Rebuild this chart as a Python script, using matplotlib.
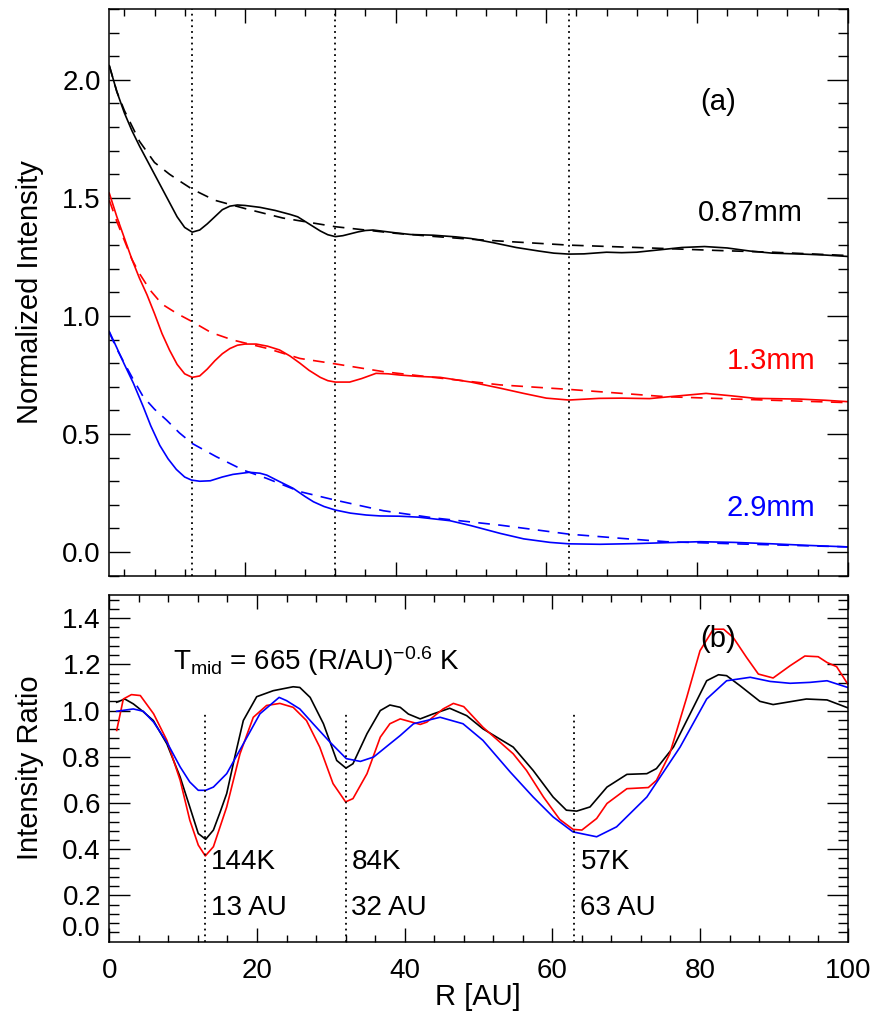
import numpy as np
import matplotlib
matplotlib.use("Agg")
import matplotlib.pyplot as plt
from matplotlib.ticker import MultipleLocator, FixedLocator, FormatStrFormatter

plt.rcParams['font.family'] = ['Liberation Sans', 'DejaVu Sans']
plt.rcParams['mathtext.fontset'] = 'custom'
plt.rcParams['mathtext.rm'] = 'Liberation Sans'
plt.rcParams['mathtext.it'] = 'Liberation Sans'

# ---------------- (a) normalized radial intensity profiles ----------------
r_087 = [2, 3, 4, 5, 6, 7, 8, 9, 10, 11, 12, 13, 14, 15, 16, 17, 18, 19, 20, 22, 24, 26,
         27, 28, 29, 30, 31, 32, 33, 34, 35, 36, 37, 38, 40, 42, 45, 48, 50, 53, 56, 59,
         61, 63, 65, 68, 70, 72, 75, 78, 81, 84, 87, 90, 94, 97, 100]
i_087 = [2.06, 1.95, 1.86, 1.785, 1.72, 1.66, 1.60, 1.54, 1.48, 1.42, 1.375, 1.355, 1.364,
         1.39, 1.42, 1.45, 1.465, 1.47, 1.468, 1.46, 1.447, 1.43, 1.42, 1.40, 1.38, 1.36,
         1.344, 1.336, 1.34, 1.348, 1.356, 1.362, 1.364, 1.36, 1.352, 1.345, 1.342, 1.335,
         1.328, 1.31, 1.29, 1.275, 1.266, 1.262, 1.263, 1.27, 1.268, 1.27, 1.28, 1.29,
         1.294, 1.288, 1.275, 1.266, 1.262, 1.258, 1.252]
r_087_fit = [2, 3, 4, 6, 8, 10, 11.4, 13, 16, 20, 25, 32, 36, 40, 45, 50, 55, 63, 72, 83, 90, 100]
i_087_fit = [2.06, 1.95, 1.87, 1.74, 1.65, 1.60, 1.57, 1.537, 1.49, 1.455, 1.415, 1.378,
             1.364, 1.35, 1.337, 1.325, 1.315, 1.30, 1.29, 1.277, 1.27, 1.256]

r_13 = [2, 3, 4, 5, 6, 7, 8, 9, 10, 11, 12, 13, 14, 15, 16, 17, 18, 19, 20, 21.5, 23, 24.6,
        26, 27.3, 28.5, 30, 31, 32, 33.9, 35.5, 37.4, 39, 40.5, 43, 45.9, 50, 53.9, 57, 60,
        63, 67, 70, 73.7, 77, 81.2, 84.5, 87.8, 93.6, 97, 100]
i_13 = [1.52, 1.42, 1.33, 1.24, 1.16, 1.09, 1.01, 0.925, 0.855, 0.795, 0.755, 0.74, 0.746,
        0.775, 0.81, 0.84, 0.862, 0.876, 0.881, 0.881, 0.872, 0.856, 0.83, 0.80, 0.77, 0.74,
        0.726, 0.72, 0.72, 0.735, 0.757, 0.755, 0.75, 0.744, 0.74, 0.72, 0.694, 0.672, 0.652,
        0.644, 0.651, 0.652, 0.65, 0.66, 0.672, 0.662, 0.651, 0.648, 0.643, 0.637]
r_13_fit = [2, 3, 4, 5, 6, 7.4, 9, 11, 13, 15.5, 18.4, 22.9, 27.3, 32, 38.4, 45, 53.9, 63, 75.9, 88, 100]
i_13_fit = [1.49, 1.40, 1.32, 1.24, 1.18, 1.11, 1.05, 1.01, 0.976, 0.93, 0.898, 0.863, 0.82,
            0.797, 0.764, 0.74, 0.708, 0.689, 0.658, 0.645, 0.633]

r_29 = [2, 3, 4, 5.2, 6.5, 7.5, 8.7, 9.8, 10.9, 12, 12.9, 14, 15.4, 17, 18.4, 20.6, 22, 22.9,
        24.5, 26.4, 28, 29.1, 30.5, 32, 34, 36.1, 38, 40.5, 43, 47.2, 50, 53.9, 57, 60.5, 63,
        67.1, 72, 76, 80.4, 85, 90, 95, 100]
i_29 = [0.934, 0.865, 0.795, 0.715, 0.616, 0.535, 0.452, 0.395, 0.35, 0.318, 0.305, 0.30, 0.302,
        0.318, 0.329, 0.338, 0.334, 0.326, 0.30, 0.27, 0.235, 0.213, 0.193, 0.178, 0.165,
        0.157, 0.153, 0.152, 0.148, 0.133, 0.112, 0.079, 0.056, 0.041, 0.035, 0.033, 0.036,
        0.04, 0.044, 0.041, 0.035, 0.028, 0.022]
r_29_fit = [2, 3, 4, 5.2, 6.5, 8, 9.6, 11.3, 13, 16.2, 19.8, 22.9, 27.3, 32, 38.4, 45, 53.9,
            63, 70, 75.9, 85, 100]
i_29_fit = [0.93, 0.86, 0.80, 0.73, 0.658, 0.605, 0.559, 0.505, 0.46, 0.404, 0.347, 0.312,
            0.256, 0.22, 0.175, 0.145, 0.114, 0.076, 0.058, 0.044, 0.035, 0.022]

# ---------------- (b) intensity ratios ----------------
r_ratio_k = [1.0, 2.1, 3.25, 4.6, 5.96, 7.8, 9.6, 10.9, 12.05, 13.05, 14.1, 15.0, 15.9, 17.0,
             18.15, 19.96, 22.2, 24.9, 25.8, 27.2, 29, 30.8, 32.05, 33.0, 34.9, 36.7, 38.0,
             39.4, 40.5, 42.1, 43.9, 46.1, 48.4, 50.6, 54.7, 57.4, 60.1, 61.9, 63.3, 65.1,
             67.4, 70.1, 72.8, 74.1, 76.4, 79.1, 80.9, 82.5, 83.6, 85.4, 88.1, 89.9, 94.4,
             97.2, 100]
ratio_k = [1.036, 1.05, 1.029, 0.995, 0.957, 0.856, 0.712, 0.583, 0.468, 0.443, 0.483, 0.56,
           0.641, 0.80, 0.957, 1.06, 1.086, 1.103, 1.10, 1.057, 0.943, 0.784, 0.751, 0.77,
           0.90, 1.0, 1.024, 1.014, 0.985, 0.964, 0.986, 1.01, 0.978, 0.921, 0.842, 0.741,
           0.626, 0.569, 0.565, 0.583, 0.669, 0.724, 0.727, 0.749, 0.842, 1.014, 1.129,
           1.155, 1.151, 1.108, 1.04, 1.026, 1.05, 1.046, 1.012]

r_ratio_r = [1.0, 1.9, 3.0, 4.2, 6.0, 7.8, 9.6, 10.9, 12.05, 13.0, 14.1, 15.9, 17.7, 19.5,
             21.3, 23.1, 24.9, 26.7, 28.5, 30.3, 32.0, 33.0, 34.9, 36.7, 38.0, 39.4, 42.1,
             43.0, 45.2, 46.6, 48.0, 50.6, 54.7, 56.5, 58.8, 61.0, 62.8, 64.0, 66.0, 67.4,
             70.1, 73.0, 74.1, 75.9, 78.2, 80.0, 81.8, 83.2, 84.5, 86.3, 87.9, 89.9, 92.2,
             94.2, 96.0, 97.2, 98.5, 100]
ratio_r = [0.914, 1.05, 1.069, 1.065, 0.986, 0.871, 0.698, 0.526, 0.418, 0.371, 0.411,
           0.583, 0.813, 0.971, 1.022, 1.031, 1.014, 0.957, 0.842, 0.684, 0.605, 0.619,
           0.727, 0.885, 0.943, 0.964, 0.94, 0.95, 1.007, 1.031, 1.017, 0.928, 0.813, 0.741,
           0.626, 0.529, 0.486, 0.483, 0.533, 0.598, 0.662, 0.667, 0.698, 0.813, 1.057,
           1.259, 1.352, 1.352, 1.316, 1.23, 1.158, 1.141, 1.194, 1.236, 1.233, 1.208, 1.19,
           1.115]

r_ratio_b = [1.0, 3.25, 4.6, 6.0, 7.8, 9.6, 10.9, 12.05, 13.05, 14.1, 15.9, 18.15, 20.4,
             23.0, 24.0, 25.8, 27.6, 29.9, 32.1, 34.0, 35.8, 38.0, 39.4, 41.2, 44.8, 47.9,
             50.6, 54.3, 57.4, 60.1, 62.8, 66.0, 68.7, 72.8, 77.3, 80.9, 83.6, 86.8, 89.5,
             92.2, 94.9, 97.2, 100]
ratio_b = [0.997, 1.007, 0.997, 0.95, 0.863, 0.756, 0.691, 0.655, 0.655, 0.669, 0.727,
           0.856, 0.986, 1.057, 1.043, 1.007, 0.943, 0.863, 0.792, 0.78, 0.799, 0.856, 0.892,
           0.943, 0.971, 0.943, 0.871, 0.734, 0.626, 0.54, 0.475, 0.454, 0.497, 0.626, 0.842,
           1.05, 1.129, 1.144, 1.126, 1.118, 1.122, 1.129, 1.1]

gap_radii = [13, 32, 63]
gap_temps = ['144K', '84K', '57K']
gap_labels = ['13 AU', '32 AU', '63 AU']

# ---------------- figure ----------------
fig = plt.figure(figsize=(8.77, 10.22), dpi=100)
W, H = 877.0, 1022.0
axL, axR = 109.3 / W, 847.7 / W
ax1 = fig.add_axes([axL, 1 - 575.7 / H, axR - axL, (575.7 - 9) / H])
ax2 = fig.add_axes([axL, 1 - 941.7 / H, axR - axL, (941.7 - 595) / H])

lw = 1.2
dash = (0, (7, 5))
dots = (0, (1, 2.2))
FS = 20

for ax in (ax1, ax2):
    for s in ax.spines.values():
        s.set_linewidth(1.1)
    ax.tick_params(which='both', direction='in', top=True, right=True, width=1.0,
                   labelsize=FS)
    ax.tick_params(axis='y', which='major', length=15, pad=6)
    ax.tick_params(axis='y', which='minor', length=7)
    ax.tick_params(axis='x', which='major', length=10, pad=12)
    ax.tick_params(axis='x', which='minor', length=5)
    ax.xaxis.set_major_locator(MultipleLocator(20))
    ax.xaxis.set_minor_locator(MultipleLocator(4))

# panel (a)
ax1.plot(r_087, i_087, color='black', lw=lw)
ax1.plot(r_087_fit, i_087_fit, color='black', lw=lw, linestyle=dash)
ax1.plot(r_13, i_13, color='red', lw=lw)
ax1.plot(r_13_fit, i_13_fit, color='red', lw=lw, linestyle=dash)
ax1.plot(r_29, i_29, color='blue', lw=lw)
ax1.plot(r_29_fit, i_29_fit, color='blue', lw=lw, linestyle=dash)
for r in gap_radii:
    ax1.axvline(r, color='black', lw=1.3, linestyle=dots)
ax1.set_xlim(2, 100)
ax1.set_ylim(-0.1, 2.3)
ax1.yaxis.set_major_locator(MultipleLocator(0.5))
ax1.yaxis.set_minor_locator(MultipleLocator(0.1))
ax1.yaxis.set_major_formatter(FormatStrFormatter('%.1f'))
ax1.tick_params(axis='x', labelbottom=False)

ax1.text(82.8, 1.907, '(a)', fontsize=21, ha='center', va='center')
ax1.text(87.1, 1.436, '0.87mm', fontsize=21, ha='center', va='center', color='black')
ax1.text(89.8, 0.81, '1.3mm', fontsize=21, ha='center', va='center', color='red')
ax1.text(89.8, 0.186, '2.9mm', fontsize=21, ha='center', va='center', color='blue')

# panel (b)
ax2.plot(r_ratio_k, ratio_k, color='black', lw=lw)
ax2.plot(r_ratio_r, ratio_r, color='red', lw=lw)
ax2.plot(r_ratio_b, ratio_b, color='blue', lw=lw)
for r, t, lab in zip(gap_radii, gap_temps, gap_labels):
    ax2.plot([r, r], [0, 1.0], color='black', lw=1.3, linestyle=dots)
    ax2.text(r + 0.8, 0.345, t, fontsize=FS, ha='left', va='center')
    ax2.text(r + 0.8, 0.147, lab, fontsize=FS, ha='left', va='center')
ax2.set_xlim(0, 100)
ax2.set_ylim(0, 1.5)
ax2.yaxis.set_major_locator(FixedLocator(np.round(np.arange(0, 1.41, 0.2), 2)))
ax2.yaxis.set_minor_locator(FixedLocator(np.round(np.arange(0, 1.5, 0.04), 2)))
ax2.yaxis.set_major_formatter(FormatStrFormatter('%.1f'))
zero_tick = ax2.yaxis.get_major_ticks()[0]
zero_tick.label1.set_verticalalignment('bottom')
zero_tick.tick1line.set_visible(False)
zero_tick.tick2line.set_visible(False)

ax2.text(8.6, 1.215, r'T$_{\rm mid}$ = 665 (R/AU)$^{-0.6}$ K', fontsize=FS,
         ha='left', va='center')
ax2.text(82.4, 1.31, '(b)', fontsize=21, ha='center', va='center')

fig.text(30 / W, 1 - 292 / H, 'Normalized Intensity', rotation=90, fontsize=21,
         ha='center', va='center')
fig.text(30 / W, 1 - 768 / H, 'Intensity Ratio', rotation=90, fontsize=21,
         ha='center', va='center')
fig.text(478 / W, 1 - 997 / H, 'R [AU]', fontsize=21, ha='center', va='center')

fig.savefig('out.png', dpi=100)
